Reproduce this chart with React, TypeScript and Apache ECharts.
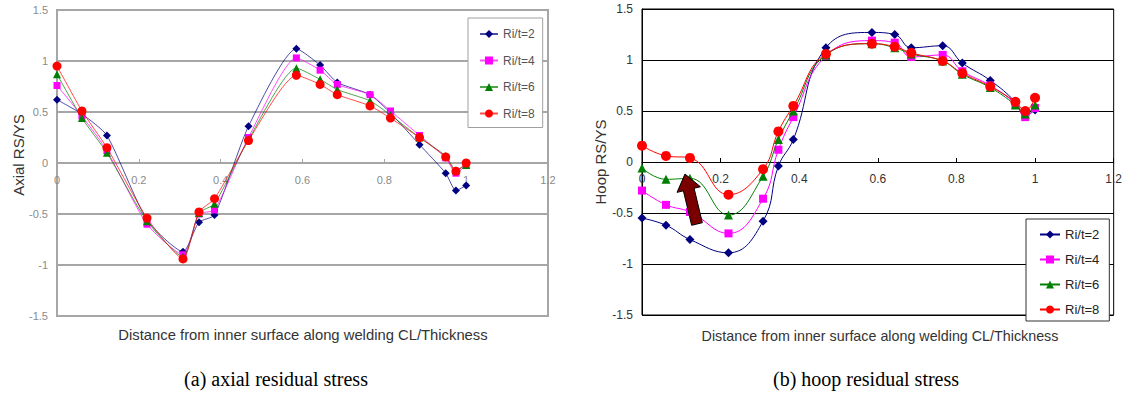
import React, { useEffect, useRef } from "react";
import * as echarts from "echarts";

// ---- data ----
const seriesNames = ["Ri/t=2", "Ri/t=4", "Ri/t=6", "Ri/t=8"];
const xPositions = [0, 0.061, 0.122, 0.22, 0.308, 0.347, 0.385, 0.468, 0.585, 0.643, 0.685, 0.765, 0.815, 0.886, 0.95, 0.975, 1.0];

const axialR2 = [0.62, 0.48, 0.27, -0.56, -0.87, -0.58, -0.51, 0.36, 1.12, 0.96, 0.79, 0.67, 0.49, 0.18, -0.10, -0.27, -0.22];
const axialR4 = [0.76, 0.46, 0.12, -0.60, -0.90, -0.50, -0.46, 0.25, 1.03, 0.91, 0.77, 0.67, 0.51, 0.27, 0.05, -0.10, -0.02];
const axialR6 = [0.87, 0.44, 0.10, -0.57, -0.92, -0.49, -0.40, 0.23, 0.93, 0.82, 0.72, 0.61, 0.47, 0.25, 0.07, -0.07, -0.02];
const axialR8 = [0.95, 0.51, 0.15, -0.54, -0.94, -0.48, -0.35, 0.22, 0.86, 0.77, 0.67, 0.56, 0.44, 0.25, 0.06, -0.08, 0.0];

const hoopR2 = [-0.55, -0.62, -0.76, -0.89, -0.58, -0.04, 0.22, 1.12, 1.27, 1.25, 1.12, 1.14, 0.97, 0.80, 0.59, 0.46, 0.51];
const hoopR4 = [-0.28, -0.42, -0.49, -0.70, -0.36, 0.12, 0.44, 1.04, 1.19, 1.17, 1.03, 1.05, 0.89, 0.75, 0.57, 0.44, 0.53];
const hoopR6 = [-0.06, -0.17, -0.16, -0.52, -0.14, 0.22, 0.50, 1.05, 1.16, 1.12, 1.06, 0.99, 0.86, 0.73, 0.56, 0.47, 0.56];
const hoopR8 = [0.16, 0.06, 0.04, -0.32, -0.07, 0.30, 0.55, 1.06, 1.16, 1.13, 1.07, 0.99, 0.87, 0.74, 0.59, 0.50, 0.63];

const axialSets = [axialR2, axialR4, axialR6, axialR8];
const hoopSets = [hoopR2, hoopR4, hoopR6, hoopR8];

const xTitle = "Distance from inner surface along welding CL/Thickness";
const captionA = "(a) axial residual stress";
const captionB = "(b) hoop residual stress";

const colors = ["#000080", "#ff00ff", "#008000", "#ff0000"];
const symbols = ["diamond", "rect", "triangle", "circle"];

const SANS = "'Liberation Sans', Arial, sans-serif";
const SERIF = "'Liberation Serif', 'Times New Roman', serif";

const GRID_H = 306;

function pairs(ys: number[]) {
  return ys.map((y, i) => [xPositions[i], y]);
}

function axes(lineColor: string, labelColor: string, labelSize: number, splitWidth: number) {
  return {
    xAxis: {
      type: "value",
      min: 0,
      max: 1.2,
      interval: 0.2,
      offset: -GRID_H / 2,
      axisLine: { onZero: false, lineStyle: { color: lineColor, width: splitWidth } },
      axisTick: { show: true, inside: true, length: 4, lineStyle: { color: lineColor } },
      splitLine: { show: false },
      axisLabel: { color: labelColor, fontSize: labelSize, fontFamily: SANS, margin: 11 },
    },
    yAxis: {
      type: "value",
      min: -1.5,
      max: 1.5,
      interval: 0.5,
      axisLine: { show: true, onZero: false, lineStyle: { color: lineColor, width: splitWidth } },
      axisTick: { show: false },
      splitLine: { show: true, lineStyle: { color: lineColor, width: splitWidth } },
      axisLabel: { color: labelColor, fontSize: labelSize, fontFamily: SANS, margin: 9 },
    },
  };
}

function arrowPoints(tail: number[], tip: number[]) {
  const dx = tip[0] - tail[0];
  const dy = tip[1] - tail[1];
  const len = Math.sqrt(dx * dx + dy * dy);
  const ux = dx / len, uy = dy / len;
  const nx = -uy, ny = ux;
  const sw = 5.5, hw = 12, hl = 16;
  const bx = tip[0] - ux * hl, by = tip[1] - uy * hl;
  return [
    [tail[0] - nx * sw, tail[1] - ny * sw],
    [bx - nx * sw, by - ny * sw],
    [bx - nx * hw, by - ny * hw],
    [tip[0], tip[1]],
    [bx + nx * hw, by + ny * hw],
    [bx + nx * sw, by + ny * sw],
    [tail[0] + nx * sw, tail[1] + ny * sw],
  ];
}

function leftOption() {
  const a = axes("#a6a6a6", "#8a8a8a", 11, 2);
  const sizes = [8, 7, 8, 9];
  return {
    animation: false,
    backgroundColor: "#ffffff",
    grid: { left: 57, top: 10, width: 491, height: GRID_H, show: true, borderColor: "#a6a6a6", borderWidth: 2, backgroundColor: "#fff" },
    xAxis: a.xAxis,
    yAxis: a.yAxis,
    legend: {
      orient: "vertical",
      left: 468,
      top: 18,
      padding: [10, 8, 8, 11],
      itemWidth: 18,
      itemHeight: 10,
      itemGap: 14.5,
      borderColor: "#a0a0a0",
      borderWidth: 1,
      backgroundColor: "#fff",
      textStyle: { color: "#555", fontSize: 12, fontFamily: SANS },
      data: seriesNames,
    },
    series: axialSets.map((ys, i) => ({
      name: seriesNames[i],
      type: "line",
      data: pairs(ys),
      smooth: 0.2,
      symbol: symbols[i],
      symbolSize: sizes[i],
      lineStyle: { width: 1, color: colors[i], opacity: 0.7 },
      itemStyle: { color: colors[i] },
      z: 3 + i,
    })),
    graphic: [
      { type: "text", x: 18, y: 155, rotation: Math.PI / 2, style: { text: "Axial RS/YS", fill: "#333", font: `15px ${SANS}`, align: "center", verticalAlign: "middle" } },
      { type: "text", x: 303, y: 335, style: { text: xTitle, fill: "#333", font: `14.8px ${SANS}`, align: "center", verticalAlign: "middle" } },
      { type: "text", x: 276, y: 379, style: { text: captionA, fill: "#000", font: `20px ${SERIF}`, align: "center", verticalAlign: "middle" } },
    ],
  };
}

function rightOption() {
  const a = axes("#000000", "#333333", 12, 1);
  const sizes = [9, 8, 9, 10];
  const off = 562;
  return {
    animation: false,
    backgroundColor: "#ffffff",
    grid: { left: 642 - off, top: 9, width: 474, height: GRID_H, show: true, borderColor: "#000", borderWidth: 1, backgroundColor: "#fff" },
    xAxis: a.xAxis,
    yAxis: a.yAxis,
    legend: {
      orient: "vertical",
      left: 1026 - off,
      top: 219,
      padding: [9, 10, 5, 13],
      itemWidth: 20,
      itemHeight: 10,
      itemGap: 12,
      borderColor: "#333",
      borderWidth: 1,
      backgroundColor: "#fff",
      textStyle: { color: "#222", fontSize: 13, fontFamily: SANS },
      data: seriesNames,
    },
    series: hoopSets.map((ys, i) => ({
      name: seriesNames[i],
      type: "line",
      data: pairs(ys),
      smooth: 0.45,
      symbol: symbols[i],
      symbolSize: sizes[i],
      lineStyle: { width: 1, color: colors[i] },
      itemStyle: { color: colors[i] },
      z: 3 + i,
    })),
    graphic: [
      { type: "text", x: 600 - off, y: 162, rotation: Math.PI / 2, style: { text: "Hoop RS/YS", fill: "#333", font: `15px ${SANS}`, align: "center", verticalAlign: "middle" } },
      { type: "text", x: 880 - off, y: 336, style: { text: xTitle, fill: "#333", font: `14.3px ${SANS}`, align: "center", verticalAlign: "middle" } },
      { type: "text", x: 866 - off, y: 379, style: { text: captionB, fill: "#000", font: `20px ${SERIF}`, align: "center", verticalAlign: "middle" } },
      {
        type: "polygon",
        z: 100,
        shape: { points: arrowPoints([697 - off, 224], [685 - off, 174]) },
        style: { fill: "#7a0000", stroke: "#000", lineWidth: 1 },
      },
    ],
  };
}

function Panel({ option, left, width }: { option: any; left: number; width: number }) {
  const ref = useRef<HTMLDivElement>(null);
  useEffect(() => {
    if (!ref.current) return;
    const chart = echarts.init(ref.current, undefined, { renderer: "svg" });
    chart.setOption(option);
    return () => chart.dispose();
  }, []);
  return <div ref={ref} style={{ position: "absolute", left, top: 0, width, height: 395 }} />;
}

export default function App() {
  return (
    <div style={{ position: "absolute", left: 0, top: 0, width: 1125, height: 395, background: "#fff" }}>
      <Panel option={leftOption()} left={0} width={562} />
      <Panel option={rightOption()} left={562} width={563} />
    </div>
  );
}
